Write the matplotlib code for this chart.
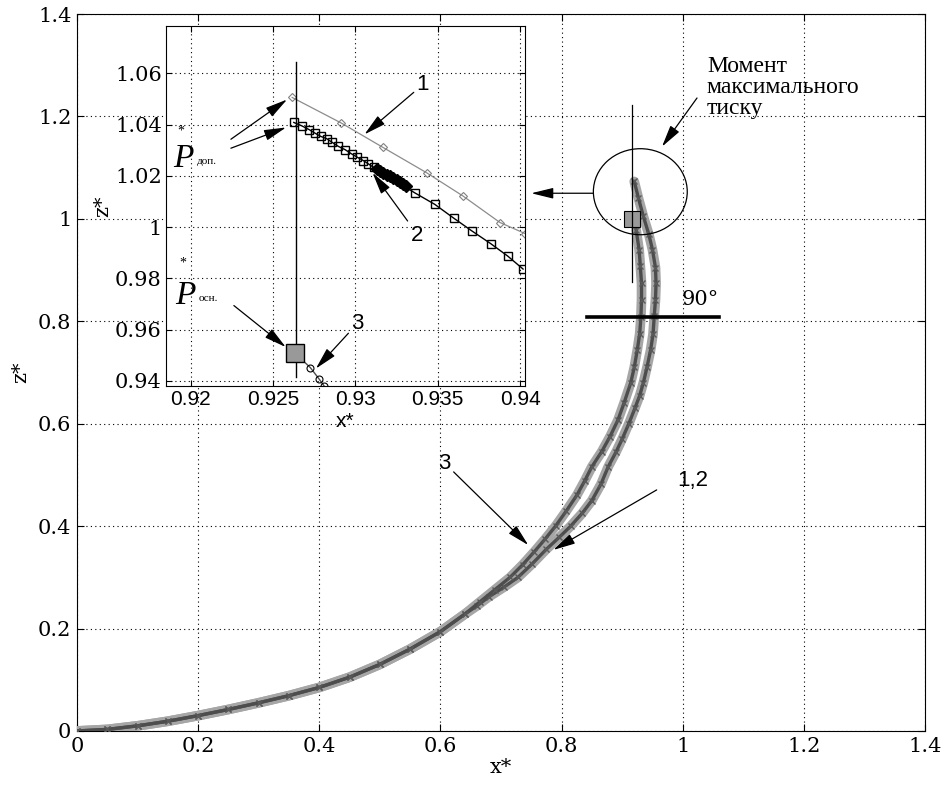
import matplotlib.pyplot as plt
from matplotlib.patches import Ellipse

# main picture: trajectories
curve12_x = [0.000, 0.050, 0.100, 0.150, 0.200, 0.250, 0.300, 0.350, 0.400, 0.450, 0.500, 0.550,
             0.600, 0.640, 0.660, 0.680, 0.705, 0.728, 0.752, 0.775, 0.796, 0.815, 0.834, 0.850,
             0.865, 0.877, 0.890, 0.900, 0.911, 0.921, 0.929, 0.935, 0.941, 0.947, 0.951, 0.953,
             0.955, 0.956, 0.955, 0.950, 0.944, 0.935, 0.927, 0.920]
curve12_y = [0.000, 0.003, 0.010, 0.019, 0.030, 0.042, 0.055, 0.069, 0.085, 0.105, 0.130, 0.160,
             0.194, 0.228, 0.244, 0.262, 0.281, 0.300, 0.327, 0.355, 0.378, 0.400, 0.425, 0.450,
             0.482, 0.516, 0.545, 0.570, 0.600, 0.630, 0.655, 0.680, 0.710, 0.744, 0.775, 0.810,
             0.842, 0.874, 0.905, 0.940, 0.970, 1.005, 1.040, 1.073]
curve3_x = [0.000, 0.050, 0.100, 0.150, 0.200, 0.250, 0.300, 0.350, 0.400, 0.450, 0.500, 0.550,
            0.600, 0.640, 0.665, 0.690, 0.715, 0.736, 0.755, 0.773, 0.790, 0.808, 0.825, 0.838,
            0.850, 0.866, 0.880, 0.893, 0.903, 0.914, 0.920, 0.925, 0.929, 0.931, 0.932, 0.932,
            0.930, 0.928, 0.923]
curve3_y = [0.000, 0.003, 0.010, 0.019, 0.030, 0.042, 0.055, 0.069, 0.085, 0.105, 0.130, 0.160,
            0.194, 0.228, 0.252, 0.276, 0.300, 0.325, 0.350, 0.375, 0.400, 0.430, 0.460, 0.488,
            0.516, 0.545, 0.575, 0.607, 0.640, 0.679, 0.710, 0.744, 0.776, 0.809, 0.842, 0.874,
            0.908, 0.940, 0.979]
p_main = (0.917, 0.999)

# inset: zoom near the maximum-pressure moment
s1_x = [0.92616, 0.92915, 0.93165, 0.93433, 0.93652, 0.93878, 0.94030]
s1_y = [1.0506, 1.0406, 1.0312, 1.0212, 1.0122, 1.0018, 0.9975]
s2_x = [0.92626, 0.92673, 0.92720, 0.92754, 0.92789, 0.92826, 0.92856, 0.92896, 0.92937,
        0.92978, 0.93012, 0.93048, 0.93079, 0.93110, 0.93360, 0.93482, 0.93598, 0.93707,
        0.93821, 0.93925, 0.94018]
s2_y = [1.04085, 1.03957, 1.03802, 1.03670, 1.03542, 1.03452, 1.03320, 1.03153, 1.03025,
        1.02854, 1.02726, 1.02598, 1.02466, 1.02338, 1.01340, 1.00889, 1.00346, 0.99853,
        0.99359, 0.98870, 0.98365]
blob_x = [0.9313, 0.9315, 0.9317, 0.9319, 0.9321, 0.9323, 0.9325, 0.9327, 0.9329, 0.9331]
blob_y = [1.0227, 1.0219, 1.0212, 1.0205, 1.0198, 1.0190, 1.0183, 1.0176, 1.0168, 1.0161]
s3_x = [0.92632, 0.92726, 0.92780, 0.92810]
s3_y = [0.9509, 0.9452, 0.9407, 0.9380]
p_osn = (0.92632, 0.9509)

fig = plt.figure(figsize=(9.46, 7.87), dpi=100)
ax = fig.add_axes([0.0814, 0.0712, 0.8964, 0.911])

for cx, cy in [(curve12_x, curve12_y), (curve3_x, curve3_y)]:
    ax.plot(cx, cy, color='0.65', lw=7, solid_capstyle='round', solid_joinstyle='round', zorder=3)
    ax.plot(cx, cy, color='0.3', lw=2.4, marker='x', ms=4, mew=1, mec='0.35',
            solid_joinstyle='round', zorder=4)

ax.plot(*p_main, marker='s', ms=11, mfc='0.6', mec='k', mew=0.8, zorder=5)
ax.plot([0.9168, 0.9168], [0.8775, 1.2227], color='k', lw=0.9, zorder=5)
ax.plot([0.8415, 1.0604], [0.809, 0.809], color='k', lw=2.6, zorder=5)
ax.add_patch(Ellipse((0.930, 1.053), 0.155, 0.168, fill=False, ec='k', lw=0.9, zorder=5))
ax.text(0.998, 0.832, '90°', fontsize=15, family='DejaVu Serif', va='baseline')

arr = dict(arrowstyle='-|>,head_length=0.9,head_width=0.22', color='k', lw=0.9,
           mutation_scale=15, shrinkA=0, shrinkB=0)
ax.annotate('', xy=(0.750, 1.050), xytext=(0.852, 1.050), arrowprops=arr)
ax.annotate('', xy=(0.9658, 1.141), xytext=(1.0236, 1.236), arrowprops=arr)
ax.text(1.040, 1.318, 'Момент\nмаксимального\nтиску', fontsize=17, family='Liberation Serif',
        va='top', linespacing=1.0)
ax.annotate('3', xy=(0.745, 0.363), xytext=(0.607, 0.523), fontsize=16,
            family='Liberation Sans', ha='center', va='center', arrowprops=arr)
ax.annotate('', xy=(0.7864, 0.3535), xytext=(0.957, 0.4707), arrowprops=arr)
ax.text(1.017, 0.490, '1,2', fontsize=16, family='Liberation Sans', ha='center', va='center')

ax.set_xlim(0, 1.4)
ax.set_ylim(0, 1.4)
ax.set_xticks([0, 0.2, 0.4, 0.6, 0.8, 1, 1.2, 1.4])
ax.set_yticks([0, 0.2, 0.4, 0.6, 0.8, 1, 1.2, 1.4])
ax.set_xticklabels(['0', '0.2', '0.4', '0.6', '0.8', '1', '1.2', '1.4'], family='DejaVu Serif')
ax.set_yticklabels(['0', '0.2', '0.4', '0.6', '0.8', '1', '1.2', '1.4'], family='DejaVu Serif')
ax.tick_params(direction='in', top=True, right=True, labelsize=15, length=5, pad=4)
ax.grid(True, color='k', linestyle=(0, (1, 3)), lw=0.8)
ax.set_xlabel('x*', fontsize=15, family='DejaVu Serif', labelpad=2)
ax.set_ylabel('z*', fontsize=15, family='DejaVu Serif', labelpad=6)

# inset
ins = fig.add_axes([0.1755, 0.5095, 0.3795, 0.4575])
ins.plot(s1_x, s1_y, color='0.55', lw=0.9, marker='D', ms=4, mfc='none', mec='0.5', mew=0.8)
ins.plot(s2_x, s2_y, color='k', lw=1.0, marker='s', ms=6, mfc='none', mec='k', mew=1.0)
ins.plot(blob_x, blob_y, color='k', lw=4, marker='D', ms=6, mfc='k', mec='k', ls='none')
ins.plot(s3_x, s3_y, color='0.3', lw=1.0, marker='o', ms=5, mfc='none', mec='k', mew=0.8)
ins.plot(*p_osn, marker='s', ms=13, mfc='0.6', mec='k', mew=1.0, zorder=5)
ins.plot([0.92638, 0.92638], [0.9416, 1.0643], color='k', lw=1.0)

ins.annotate('1', xy=(0.93055, 1.0362), xytext=(0.93409, 1.0556), fontsize=16,
             family='Liberation Sans', ha='center', va='center', arrowprops=arr)
ins.annotate('', xy=(0.93104, 1.0212), xytext=(0.93317, 1.0024), arrowprops=arr)
ins.text(0.93372, 0.9966, '2', fontsize=16, family='Liberation Sans', ha='center', va='center')
ins.annotate('', xy=(0.92585, 1.0498), xytext=(0.92244, 1.0343), arrowprops=arr)
ins.annotate('', xy=(0.92579, 1.0389), xytext=(0.92244, 1.0308), arrowprops=arr)
ins.annotate('', xy=(0.92577, 0.9532), xytext=(0.92262, 0.9694), arrowprops=arr)
ins.annotate('3', xy=(0.92760, 0.9448), xytext=(0.93012, 0.9624), fontsize=16,
             family='Liberation Sans', ha='center', va='center', arrowprops=arr)

for (px, py), sub, dstar in [((0.91957, 1.02687), 'доп.', 0.0080),
                             ((0.91970, 0.97328), 'осн.', 0.0100)]:
    ins.text(px, py, 'P', fontsize=24, family='Liberation Serif', style='italic',
             ha='center', va='center')
    ins.text(px + 0.00078, py - 0.0012, sub, fontsize=8, family='Liberation Serif',
             ha='left', va='center')
    ins.text(px - 0.0002, py + dstar, '*', fontsize=10, family='Liberation Serif',
             ha='center', va='bottom')

ins.set_xlim(0.9185, 0.9403)
ins.set_ylim(0.938, 1.0785)
ins.set_xticks([0.92, 0.925, 0.93, 0.935, 0.94])
ins.set_xticklabels(['0.92', '0.925', '0.93', '0.935', '0.94'], family='Liberation Sans')
ins.set_yticks([0.94, 0.96, 0.98, 1.0, 1.02, 1.04, 1.06])
ins.set_yticklabels(['0.94', '0.96', '0.98', '1', '1.02', '1.04', '1.06'], family='DejaVu Serif')
ins.tick_params(direction='in', top=True, right=True, labelsize=15, length=4, pad=3)
ins.grid(True, color='k', linestyle=(0, (1, 3)), lw=0.8)
ins.set_xlabel('x*', fontsize=15, family='Liberation Sans', labelpad=2)
ins.set_ylabel('z*', fontsize=15, family='DejaVu Serif', labelpad=2)

fig.savefig('out.png', dpi=100)
